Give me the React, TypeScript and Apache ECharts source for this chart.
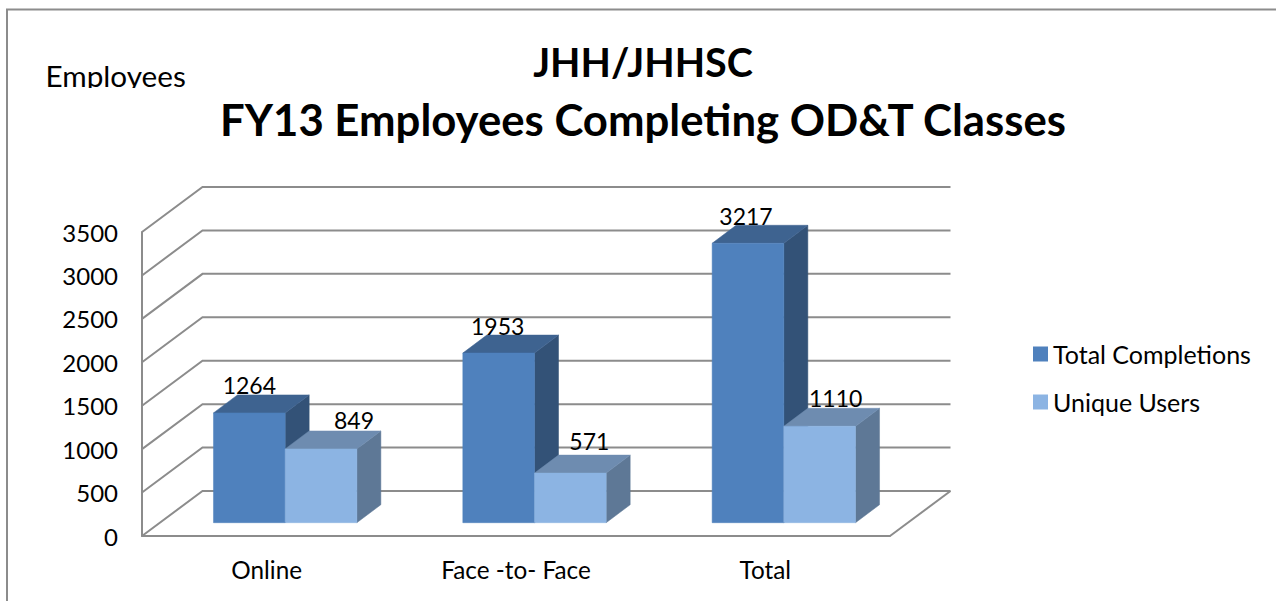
import React, { useEffect, useRef } from "react";
import * as echarts from "echarts";

const categories = ["Online", "Face -to- Face", "Total"];
const totalCompletions = [1264, 1953, 3217];
const uniqueUsers = [849, 571, 1110];
const yTicks = [0, 500, 1000, 1500, 2000, 2500, 3000, 3500];
const dataFont = "Lato";

const WALL_DX = 60.5;
const WALL_DY = -45;
const FLOOR_DX = 18.5;
const FLOOR_DY = -13.3;
const BAR_DX = 24;
const BAR_DY = -18;
const BAR_RATIO = 0.2875;
const GRID_COLOR = "#8c8c8c";

const darkFaces = { front: "#4f81bd", top: "#3e6390", side: "#335277" };
const lightFaces = { front: "#8cb4e3", top: "#6e8cb0", side: "#5e7896" };
const darkLabelShift = [0, -1, -2];
const lightLabelShift = [33, 19, 16];
const darkLabelLift = [0, 0, 0];
const lightLabelLift = [1, 5, 1];

function barSeries(name: string, values: number[], faces: any, side: number, shifts: number[], lifts: number[]) {
  return {
    name,
    type: "custom",
    itemStyle: { color: faces.front },
    data: values.map((v, i) => [i, v]),
    encode: { x: 0, y: 1 },
    clip: false,
    z: 3 + side,
    renderItem: (_p: any, api: any) => {
      const i = api.value(0);
      const v = api.value(1);
      const band = api.size([1, 0])[0];
      const w = band * BAR_RATIO;
      const base = api.coord([i, 0]);
      const tip = api.coord([i, v]);
      const x0 = base[0] + FLOOR_DX + (side - 1) * w;
      const x1 = x0 + w;
      const yb = base[1] + FLOOR_DY;
      const yt = tip[1] + FLOOR_DY;
      const poly = (points: number[][], fill: string) => ({
        type: "polygon",
        shape: { points },
        style: { fill, stroke: fill, lineWidth: 0.5 },
      });
      return {
        type: "group",
        children: [
          poly([[x1, yb], [x1 + BAR_DX, yb + BAR_DY], [x1 + BAR_DX, yt + BAR_DY], [x1, yt]], faces.side),
          poly([[x0, yt], [x0 + BAR_DX, yt + BAR_DY], [x1 + BAR_DX, yt + BAR_DY], [x1, yt]], faces.top),
          poly([[x0, yb], [x1, yb], [x1, yt], [x0, yt]], faces.front),
          {
            type: "text",
            style: {
              x: (x0 + x1) / 2 + shifts[i],
              y: yt + BAR_DY + 2 - lifts[i],
              text: String(v),
              fill: "#000",
              font: `23px ${dataFont}`,
              align: "center",
              verticalAlign: "bottom",
            },
          },
        ],
      };
    },
  };
}

const option: any = {
  animation: false,
  backgroundColor: "#fff",
  title: {
    text: "{a|JHH/JHHSC}\n{b|FY13 Employees Completing OD&T Classes}",
    left: 638,
    top: 27,
    textAlign: "center",
    textStyle: {
      fontFamily: "Lato",
      fontWeight: "bold",
      color: "#000",
      rich: {
        a: { fontFamily: "Lato", fontWeight: "bold", fontSize: 39.5, lineHeight: 58, color: "#000" },
        b: { fontFamily: "Lato", fontWeight: "bold", fontSize: 43.7, lineHeight: 58, color: "#000" },
      },
    },
  },
  legend: {
    left: 1028,
    top: 335,
    orient: "vertical",
    itemWidth: 15,
    itemHeight: 15,
    itemGap: 20,
    icon: "rect",
    data: ["Total Completions", "Unique Users"],
    textStyle: { fontFamily: "Lato", fontSize: 25, color: "#000", lineHeight: 28 },
  },
  grid: { left: 142, top: 232, width: 748, height: 304 },
  xAxis: {
    type: "category",
    data: categories,
    axisLine: { show: true, lineStyle: { color: GRID_COLOR, width: 2 } },
    axisTick: { show: false },
    axisLabel: { color: "#000", fontFamily: "Lato", fontSize: 24.3, margin: 21 },
  },
  yAxis: {
    type: "value",
    min: 0,
    max: 3500,
    interval: 500,
    axisLine: { show: true, lineStyle: { color: GRID_COLOR, width: 2 } },
    axisTick: { show: false },
    splitLine: { show: false },
    axisLabel: {
      color: "#000",
      fontFamily: "Lato",
      fontSize: 24,
      margin: 24,
      formatter: (v: number) => String(v),
    },
  },
  series: [
    {
      type: "custom",
      silent: true,
      clip: false,
      z: 1,
      data: yTicks.map((t) => [0, t]),
      encode: { x: 0, y: 1 },
      renderItem: (p: any, api: any) => {
        const y = api.coord([0, api.value(1)])[1];
        const g = p.coordSys;
        const xL = g.x;
        const xR = g.x + g.width;
        const style = { stroke: GRID_COLOR, lineWidth: 2, fill: "none" };
        const children: any[] = [
          {
            type: "polyline",
            shape: { points: [[xL, y], [xL + WALL_DX, y + WALL_DY], [xR + WALL_DX, y + WALL_DY]] },
            style,
          },
        ];
        if (api.value(1) === 0) {
          children.push({
            type: "line",
            shape: { x1: xR, y1: y, x2: xR + WALL_DX, y2: y + WALL_DY },
            style,
          });
        }
        return { type: "group", children };
      },
    },
    barSeries("Total Completions", totalCompletions, darkFaces, 0, darkLabelShift, darkLabelLift),
    barSeries("Unique Users", uniqueUsers, lightFaces, 1, lightLabelShift, lightLabelLift),
  ],
  graphic: [
    { type: "polyline", z: 0, shape: { points: [[7, 601], [7, 9.5], [1276, 9.5]] }, style: { stroke: "#8c8c8c", lineWidth: 2, fill: "none" } },
    { type: "text", z: 5, style: { x: 45.5, y: 60, text: "Employees", fill: "#000", font: "29.7px Lato" } },
    { type: "rect", z: 6, shape: { x: 40, y: 88, width: 160, height: 14 }, style: { fill: "#fff" } },
  ],
};

export default function App() {
  const ref = useRef<HTMLDivElement>(null);
  useEffect(() => {
    const chart = echarts.init(ref.current!, undefined, { renderer: "svg" });
    chart.setOption(option);
    return () => chart.dispose();
  }, []);
  return <div ref={ref} style={{ position: "absolute", left: 0, top: 0, width: 1276, height: 601 }} />;
}
